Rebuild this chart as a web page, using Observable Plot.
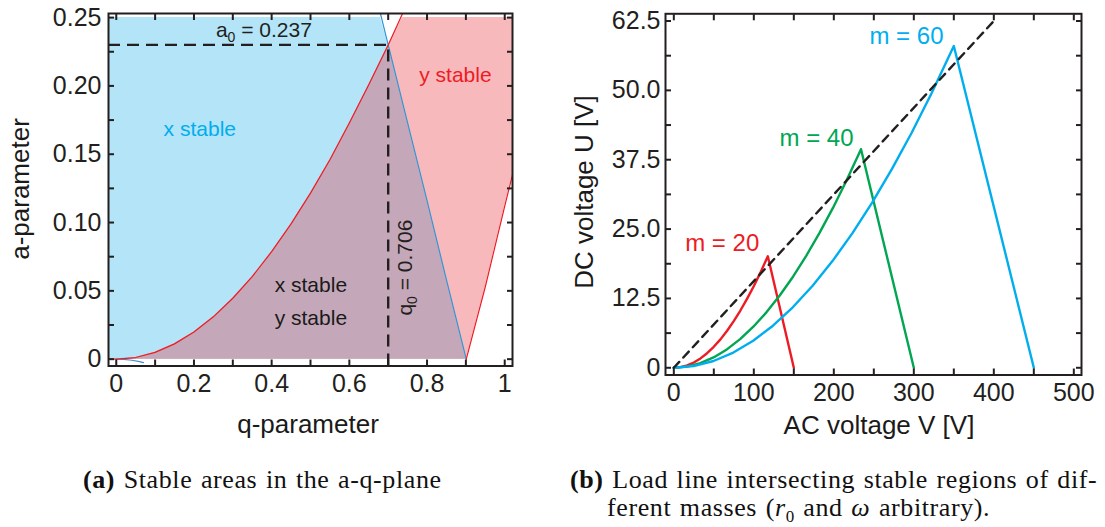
<!DOCTYPE html>
<html><head><meta charset="utf-8">
<script src="https://cdn.jsdelivr.net/npm/d3@7"></script>
<script src="https://cdn.jsdelivr.net/npm/@observablehq/plot@0.6"></script>
<style>
body{margin:0;background:#fff;}
#wrap{position:relative;width:1105px;height:527px;overflow:hidden;font-family:"Liberation Sans",Arial,sans-serif;color:#1a1a1a;}
.plot{position:absolute;top:0;}
.cap{position:absolute;font-family:"Liberation Serif","Times New Roman",serif;font-size:26px;line-height:28px;letter-spacing:0.6px;word-spacing:1.5px;color:#111;white-space:nowrap;}
.atitle{position:absolute;font-size:26px;color:#1a1a1a;white-space:nowrap;transform:translate(-50%,-50%);}
.rot{transform:translate(-50%,-50%) rotate(-90deg);}
</style></head><body>
<div id="wrap">
  <div id="pa" class="plot" style="left:0px"></div>
  <div id="pb" class="plot" style="left:560px"></div>
  <div class="atitle" style="left:308px;top:424px">q-parameter</div>
  <div class="atitle rot" style="left:20px;top:189px">a-parameter</div>
  <div class="atitle" style="left:879px;top:425px">AC voltage V [V]</div>
  <div class="atitle rot" style="left:584px;top:192px">DC voltage U [V]</div>
  <div class="cap" style="left:83px;top:466px"><b>(a)</b> Stable areas in the a-q-plane</div>
  <div class="cap" style="left:570px;top:466px;padding-left:37px;text-indent:-37px;"><b>(b)</b> Load line intersecting stable regions of dif-<br>ferent masses (<i>r</i><sub style="font-size:17px;line-height:0">0</sub> and <i>ω</i> arbitrary).</div>
</div>
<script>
// ================= Panel (a): a-q stability diagram =================
const qDomain = [-0.02, 1.02];
const aDomain = [-0.005, 0.253];
const aFillTop = 0.25;
// red boundary (y-stability edge)
const redQ = [-0.02, 0, 0.05, 0.1, 0.15, 0.2, 0.25, 0.3, 0.35, 0.4, 0.45, 0.5, 0.55, 0.6, 0.65, 0.70, 0.737];
const redA = [0.0002, 0, 0.0012, 0.0050, 0.0112, 0.0199, 0.0310, 0.0446, 0.0604, 0.0787, 0.0990, 0.1215, 0.1460, 0.1728, 0.2008, 0.2300, 0.2530];
// blue boundary (x-stability edge)
const blueQ = [0.680, 0.70, 0.75, 0.80, 0.85, 0.901];
const blueA = [0.2530, 0.2300, 0.1730, 0.1160, 0.0580, 0];
// small lower blue branch near the origin
const blueLowQ = [0, 0.02, 0.04, 0.06, 0.07];
const blueLowA = [0, -0.0002, -0.0008, -0.0018, -0.0025];
// right red boundary
const redRightQ = [0.901, 0.95, 1.0, 1.02];
const redRightA = [0, 0.053, 0.112, 0.135];
// working point
const apexQ = 0.70, apexA = 0.230;
// ticks
const aXTicks = [0, 0.1, 0.2, 0.3, 0.4, 0.5, 0.6, 0.7, 0.8, 0.9, 1.0];
const aXLabels = [0, 0.2, 0.4, 0.6, 0.8, 1];
const aYTicks = [0, 0.025, 0.05, 0.075, 0.1, 0.125, 0.15, 0.175, 0.2, 0.225, 0.25];
const aYLabels = [0, 0.05, 0.10, 0.15, 0.20, 0.25];
// annotations
const annText = ["x stable", "y stable", "x stable", "y stable"];
const annQ = [0.215, 0.873, 0.501, 0.501];
const annA = [0.168, 0.208, 0.054, 0.030];
const annColor = ["#00aeef", "#ed1c24", "#1a1a1a", "#1a1a1a"];

// ================= Panel (b): load line =================
const vDomain = [-10.4, 509.6];
const uDomain = [-1.3, 63.8];
const loadV = [0, 400];
const loadU = [0, 62.5];
const m20V = [0, 8.3, 16.6, 25.0, 33.3, 41.6, 49.9, 58.3, 66.6, 74.9, 83.2, 91.5, 99.9, 108.2, 117.5, 150];
const m20U = [0, 0.11, 0.42, 0.95, 1.69, 2.63, 3.78, 5.12, 6.67, 8.40, 10.32, 12.42, 14.70, 17.15, 20.1, 0];
const m40V = [0, 16.6, 33.1, 49.7, 66.3, 82.9, 99.4, 116.0, 132.6, 149.2, 165.7, 182.3, 198.9, 215.4, 234, 300];
const m40U = [0, 0.21, 0.83, 1.86, 3.31, 5.16, 7.40, 10.04, 13.07, 16.46, 20.23, 24.35, 28.81, 33.61, 39.4, 0];
const m60V = [0, 24.8, 49.6, 74.4, 99.2, 123.9, 148.7, 173.5, 198.3, 223.1, 247.9, 272.7, 297.5, 322.2, 350, 450];
const m60U = [0, 0.31, 1.22, 2.74, 4.87, 7.59, 10.90, 14.78, 19.23, 24.23, 29.78, 35.84, 42.41, 49.47, 58.0, 0];
const massLabel = ["m = 20", "m = 40", "m = 60"];
const massLabelV = [60.5, 178.4, 290.8];
const massLabelU = [22.4, 41.4, 59.7];
const massColor = ["#ed1c24", "#00a651", "#00aeef"];
const bXTicks = [0, 50, 100, 150, 200, 250, 300, 350, 400, 450, 500];
const bXLabels = [0, 100, 200, 300, 400, 500];
const bYTicks = [0, 6.25, 12.5, 18.75, 25, 31.25, 37.5, 43.75, 50, 56.25, 62.5];
const bYLabels = [0, 12.5, 25.0, 37.5, 50.0, 62.5];

const INK = "#231f20";
const zip = (xs, ys) => xs.map((x, i) => ({x, y: ys[i]}));

function frameTicks(xt, yt) {
  const o = {tickSize: 6, strokeWidth: 2, stroke: INK, tickFormat: () => "", label: null};
  return [
    Plot.axisX(xt, {...o, anchor: "bottom", dy: -6}),
    Plot.axisX(xt, {...o, anchor: "top", dy: 6}),
    Plot.axisY(yt, {...o, anchor: "left", dx: 6}),
    Plot.axisY(yt, {...o, anchor: "right", dx: -6})
  ];
}

// ---- fills for panel (a)
const clipTop = a => Math.min(a, aFillTop);
const blueFill = [{x: qDomain[0], hi: aFillTop}].concat(blueQ.map((q, i) => ({x: q, hi: clipTop(blueA[i])})));
const pinkFill = redQ.map((q, i) => ({x: q, lo: 0, hi: clipTop(redA[i])}))
  .concat(redRightQ.map((q, i) => ({x: q, lo: redRightA[i], hi: aFillTop})))
  .concat([{x: qDomain[1], lo: redRightA[redRightA.length - 1], hi: aFillTop}]);
const purpleFill = redQ.filter(q => q <= apexQ).map((q) => ({x: q, hi: redA[redQ.indexOf(q)]}))
  .concat(blueQ.filter(q => q > apexQ).map(q => ({x: q, hi: blueA[blueQ.indexOf(q)]})));

const fontA = {fontFamily: "Liberation Sans, Arial, sans-serif"};

const plotA = Plot.plot({
  width: 540, height: 450,
  marginLeft: 108, marginRight: 28, marginTop: 13, marginBottom: 84.5,
  x: {domain: qDomain}, y: {domain: aDomain},
  style: {...fontA, fontSize: "25px", color: INK, background: "transparent", overflow: "visible"},
  marks: [
    Plot.areaY(blueFill, {x: "x", y1: 0, y2: "hi", fill: "#b3e4f7"}),
    Plot.areaY(pinkFill, {x: "x", y1: "lo", y2: "hi", fill: "#f8b9bc"}),
    Plot.areaY(purpleFill, {x: "x", y1: 0, y2: "hi", fill: "#c4a8b9"}),
    Plot.line(zip(blueLowQ, blueLowA), {x: "x", y: "y", stroke: "#3a8fd0", strokeWidth: 1.2}),
    Plot.line(zip(blueQ, blueA), {x: "x", y: "y", stroke: "#2f95d8", strokeWidth: 1.2}),
    Plot.line(zip(redQ, redA), {x: "x", y: "y", stroke: "#ed1c24", strokeWidth: 1.2}),
    Plot.line(zip(redRightQ, redRightA), {x: "x", y: "y", stroke: "#ed1c24", strokeWidth: 1.2}),
    Plot.ruleY([apexA], {x1: qDomain[0], x2: apexQ, stroke: INK, strokeWidth: 2.4, strokeDasharray: "12,7"}),
    Plot.ruleX([apexQ], {y1: aDomain[0], y2: apexA, stroke: INK, strokeWidth: 2.4, strokeDasharray: "12,7"}),
    Plot.text(annText, {x: (d, i) => annQ[i], y: (d, i) => annA[i], text: d => d, fill: (d, i) => annColor[i], fontSize: 21}),
    Plot.text(["a0 = 0.237"], {x: [0.38], y: [0.2408], text: d => d, fill: INK, fontSize: 21}),
    Plot.text(["q0 = 0.706"], {x: [0.745], y: [0.067], text: d => d, fill: INK, fontSize: 21, rotate: -90}),
    Plot.frame({stroke: INK, strokeWidth: 2}),
    ...frameTicks(aXTicks, aYTicks),
    Plot.axisX(aXLabels, {anchor: "bottom", tickSize: 0, tickPadding: 8, fontSize: 25, label: null,
      tickFormat: d => d === 0 ? "0" : d === 1 ? "1" : d.toFixed(1)}),
    Plot.axisY(aYLabels, {anchor: "left", tickSize: 0, tickPadding: 7, fontSize: 25, label: null,
      tickFormat: d => d === 0 ? "0" : d.toFixed(2)})
  ]
});
document.getElementById("pa").appendChild(plotA);

// subscripts in annotations
plotA.querySelectorAll("text").forEach(t => {
  const s = t.textContent;
  if (s === "a0 = 0.237" || s === "q0 = 0.706") {
    const letter = s[0];
    t.textContent = "";
    const ns = "http://www.w3.org/2000/svg";
    const t1 = document.createElementNS(ns, "tspan"); t1.textContent = letter;
    const t2 = document.createElementNS(ns, "tspan"); t2.textContent = "0";
    t2.setAttribute("font-size", "14"); t2.setAttribute("dy", "5");
    const t3 = document.createElementNS(ns, "tspan"); t3.textContent = " = " + s.split(" = ")[1];
    t3.setAttribute("dy", "-5");
    t.append(t1, t2, t3);
  }
});

// ---- panel (b)
const plotB = Plot.plot({
  width: 545, height: 450,
  marginLeft: 105, marginRight: 24, marginTop: 13.3, marginBottom: 75.5,
  x: {domain: vDomain}, y: {domain: uDomain},
  style: {...fontA, fontSize: "25px", color: INK, background: "transparent", overflow: "visible"},
  marks: [
    Plot.line(zip(m20V, m20U), {x: "x", y: "y", stroke: massColor[0], strokeWidth: 2.4}),
    Plot.line(zip(m40V, m40U), {x: "x", y: "y", stroke: massColor[1], strokeWidth: 2.4}),
    Plot.line(zip(m60V, m60U), {x: "x", y: "y", stroke: massColor[2], strokeWidth: 2.4}),
    Plot.line(zip(loadV, loadU), {x: "x", y: "y", stroke: INK, strokeWidth: 2.4, strokeDasharray: "8,6"}),
    Plot.text(massLabel, {x: (d, i) => massLabelV[i], y: (d, i) => massLabelU[i], text: d => d, fill: (d, i) => massColor[i], fontSize: 24}),
    Plot.frame({stroke: INK, strokeWidth: 2}),
    ...frameTicks(bXTicks, bYTicks),
    Plot.axisX(bXLabels, {anchor: "bottom", tickSize: 0, tickPadding: 8, fontSize: 25, label: null,
      tickFormat: d => String(d)}),
    Plot.axisY(bYLabels, {anchor: "left", tickSize: 0, tickPadding: 5, fontSize: 25, label: null,
      tickFormat: d => d === 0 ? "0" : d.toFixed(1)})
  ]
});
document.getElementById("pb").appendChild(plotB);
</script>
</body></html>
